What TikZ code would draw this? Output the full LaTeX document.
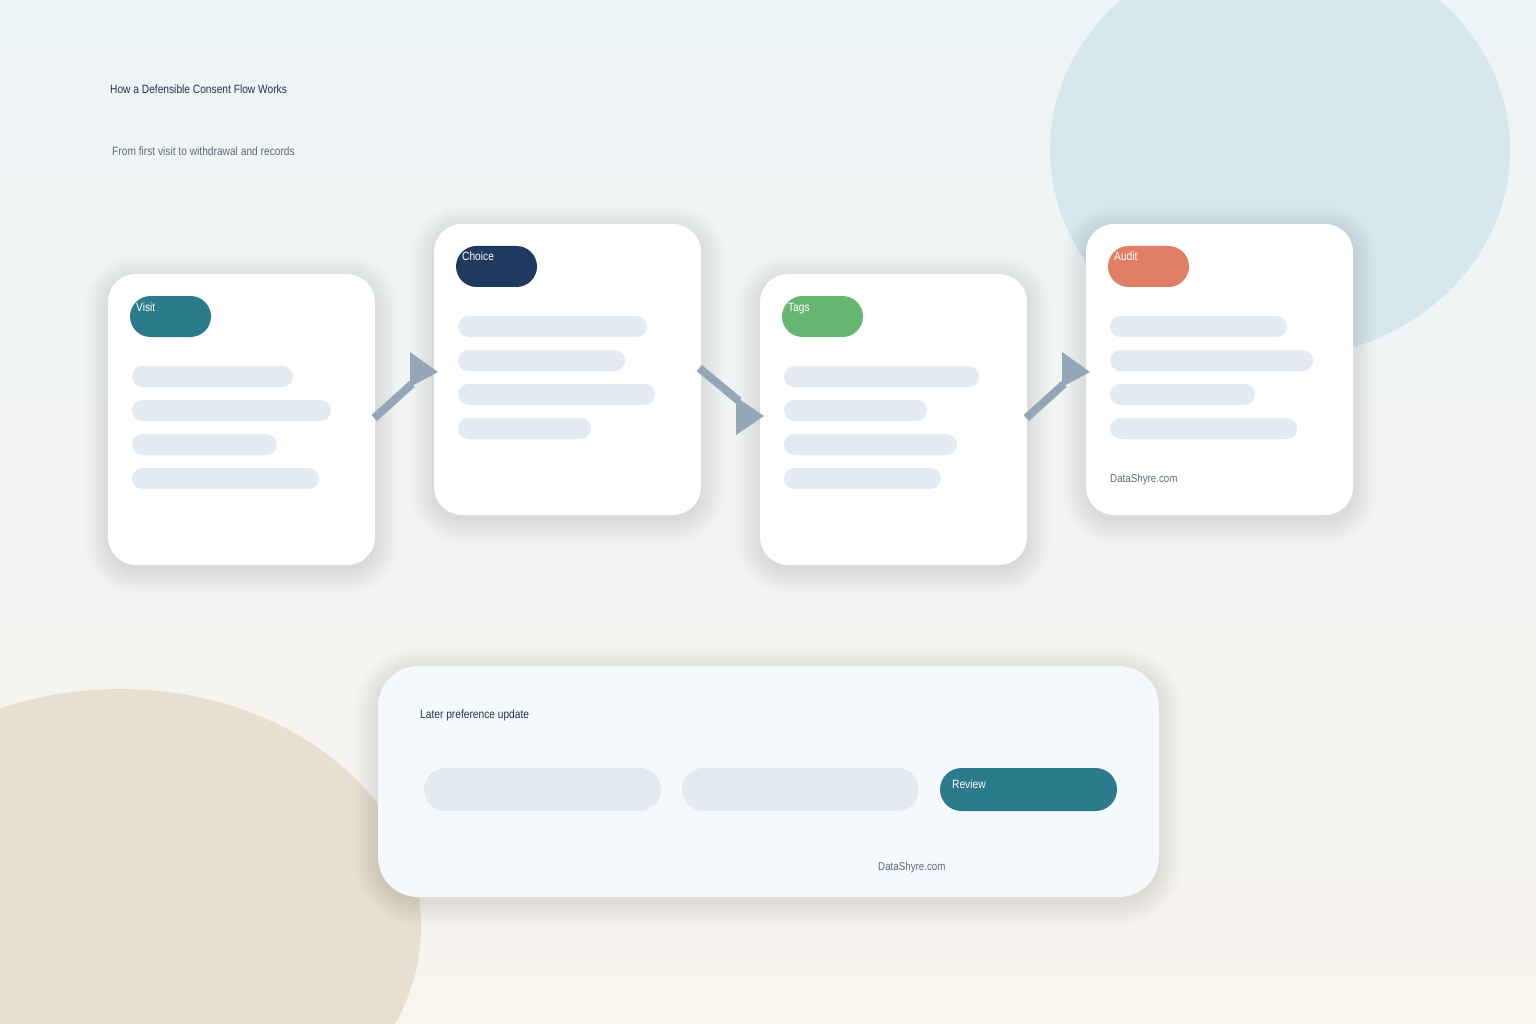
\documentclass[tikz,border=0pt]{standalone}
\usepackage{fontspec}
\setmainfont{Liberation Sans}[FakeStretch=0.85]
\usetikzlibrary{calc}
\definecolor{bgtop}{HTML}{EDF4F7}
\definecolor{bgbot}{HTML}{F8F4EE}
\definecolor{blobblue}{HTML}{D6E7EE}
\definecolor{blobsand}{HTML}{E8DFD0}
\definecolor{tealc}{HTML}{2C7B8C}
\definecolor{navyc}{HTML}{1E3A5F}
\definecolor{greenc}{HTML}{66B570}
\definecolor{salmonc}{HTML}{E07F65}
\definecolor{barc}{HTML}{E3EAF1}
\definecolor{arrowc}{HTML}{94A7B8}
\definecolor{titlec}{HTML}{1F3556}
\definecolor{subc}{HTML}{5C6B7D}
\definecolor{panelc}{HTML}{F5F9FC}
\definecolor{shadowc}{HTML}{3A4A50}
\tikzset{
  cardbox/.style={fill=white, rounded corners=28pt, inner sep=0pt, minimum width=267pt, minimum height=291pt},
  panelbox/.style={fill=panelc, rounded corners=40pt, inner sep=0pt, minimum width=781pt, minimum height=231pt},
  barfill/.style={fill=barc, rounded corners=10.5pt},
  pillfill/.style={rounded corners=20.5pt},
  pilltext/.style={text=white, font=\fontsize{12}{14}\selectfont, inner sep=0pt, anchor=base west},
  titletext/.style={text=titlec, font=\fontsize{12}{14}\selectfont, inner sep=0pt, anchor=base west},
  subtext/.style={text=subc, font=\fontsize{12}{14}\selectfont, inner sep=0pt, anchor=base west},
  marktext/.style={text=subc, font=\fontsize{11.5}{14}\selectfont, inner sep=0pt, anchor=base west},
  arrowline/.style={draw=arrowc, line width=8pt},
  arrowhead/.style={fill=arrowc},
  shadowlayer/.style={fill=shadowc, opacity=0.0045},
}
\newcommand{\skbar}[3]{\fill[barfill] (#1,#2) rectangle ++(#3,21);}
% soft shadow: x1 y1 x2 y2 radius
\newcommand{\softshadow}[5]{%
  \foreach \i in {0,...,24}{%
    \pgfmathsetmacro{\rr}{#5+\i}%
    \fill[shadowlayer, rounded corners=\rr pt] ({#1-\i},{#2-\i+5}) rectangle ({#3+\i},{#4+\i+5});
  }}
\begin{document}
\begin{tikzpicture}[x=1pt,y=-1pt]
\useasboundingbox (0,0) rectangle (1536,1024);
\shade[top color=bgtop, bottom color=bgbot] (0,0) rectangle (1536,1024);
\begin{scope}
\clip (0,0) rectangle (1536,1024);
\fill[blobblue] (1280,150) ellipse [x radius=230, y radius=208];
\fill[blobsand] (120,927) ellipse [x radius=301, y radius=238];
\end{scope}

\node[titletext] (title) at (110,94) {How a Defensible Consent Flow Works};
\node[subtext] (subtitle) at (112,156) {From first visit to withdrawal and records};

% shadows
\softshadow{108}{274}{375}{565}{28}
\softshadow{434}{224}{701}{515}{28}
\softshadow{760}{274}{1027}{565}{28}
\softshadow{1086}{224}{1353}{515}{28}
\softshadow{378}{666}{1159}{897}{40}

% cards
\node[cardbox] (c1) at (241.5,419.5) {};
\node[cardbox] (c2) at (567.5,369.5) {};
\node[cardbox] (c3) at (893.5,419.5) {};
\node[cardbox] (c4) at (1219.5,369.5) {};

% card 1
\fill[pillfill, fill=tealc] (130,296) rectangle ++(81,41);
\node[pilltext] (l1) at (136,311) {Visit};
\skbar{132}{366}{161}
\skbar{132}{400}{199}
\skbar{132}{434}{145}
\skbar{132}{468}{187}

% card 2
\fill[pillfill, fill=navyc] (456,246) rectangle ++(81,41);
\node[pilltext] (l2) at (462,261) {Choice};
\skbar{458}{316}{189}
\skbar{458}{350}{167}
\skbar{458}{384}{197}
\skbar{458}{418}{133}

% card 3
\fill[pillfill, fill=greenc] (782,296) rectangle ++(81,41);
\node[pilltext] (l3) at (788,311) {Tags};
\skbar{784}{366}{195}
\skbar{784}{400}{143}
\skbar{784}{434}{173}
\skbar{784}{468}{157}

% card 4
\fill[pillfill, fill=salmonc] (1108,246) rectangle ++(81,41);
\node[pilltext] (l4) at (1114,261) {Audit};
\skbar{1110}{316}{177}
\skbar{1110}{350}{203}
\skbar{1110}{384}{145}
\skbar{1110}{418}{187}
\node[marktext] (m4) at (1110,482) {DataShyre.com};

% arrows
\coordinate (a1s) at ($(c1.east)+(-1,-1.5)$);
\draw[arrowline] (a1s) -- (412,384);
\fill[arrowhead] (410,352) -- (438,372) -- (410,387) -- cycle;
\coordinate (a2s) at ($(c2.east)+(-2,-1.5)$);
\draw[arrowline] (a2s) -- (739,401);
\fill[arrowhead] (736,397) -- (764,416) -- (736,435) -- cycle;
\coordinate (a3s) at ($(c3.east)+(-1,-1.5)$);
\draw[arrowline] (a3s) -- (1064,384);
\fill[arrowhead] (1062,352) -- (1090,372) -- (1062,387) -- cycle;

% bottom panel
\node[panelbox] (panel) at (768.5,781.5) {};
\node[titletext] (pt) at (420,718) {Later preference update};
\fill[fill=barc, rounded corners=21.5pt] (424,768) rectangle ++(237,43);
\fill[fill=barc, rounded corners=21.5pt] (682,768) rectangle ++(237,43);
\fill[fill=tealc, rounded corners=21.5pt] (940,768) rectangle ++(177,43);
\node[pilltext] (rv) at (952,788) {Review};
\node[marktext] (m5) at (878,870) {DataShyre.com};
\end{tikzpicture}
\end{document}
